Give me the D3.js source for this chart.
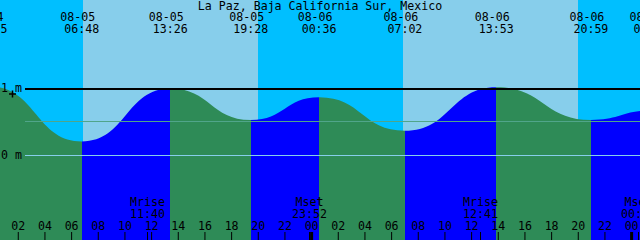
<!DOCTYPE html>
<meta charset="utf-8">
<script src="https://cdn.jsdelivr.net/npm/d3@7"></script>
<style>
    body { margin: 0; }
    svg { display: block; font-family: "DejaVu Sans Mono", monospace; font-size: 11.6px; }
</style>
<svg></svg>
<script>
    var width = 640, height = 240;
    var title = "La Paz, Baja California Sur, Mexico";
    var start = "08-05 00:40", end = "08-07 00:40";
    // tide extremes
    var tideTimes = ["08-04 23:55", "08-05 06:48", "08-05 13:26", "08-05 19:28", "08-06 00:36",
        "08-06 07:02", "08-06 13:53", "08-06 20:59", "08-07 01:29"];
    var tideLevels = [1.03, 0.21, 1.00, 0.53, 0.87, 0.37, 1.02, 0.53, 0.67];
    // sunrise, sunset, sunrise, sunset
    var sunTimes = ["08-05 06:53", "08-05 20:00", "08-06 06:52", "08-06 19:59"];
    var moonNames = ["Mrise", "Mset", "Mrise", "Mset"];
    var moonTimes = ["08-05 11:40", "08-05 23:52", "08-06 12:41", "08-07 00:33"];
    var depthTicks = [0, 1];
    var meanLevel = 0.52;

    var parse = d3.timeParse("%m-%d %H:%M");
    var fmtDate = d3.timeFormat("%m-%d"), fmtTime = d3.timeFormat("%H:%M");

    var svg = d3.select("svg").attr("width", width).attr("height", height);
    var x = d3.scaleTime().domain([parse(start), parse(end)]).range([0, width]);
    var y = d3.scaleLinear().domain([0, 1]).range([155.5, 88.5]);

    // sky: night / day bands
    var edges = [parse(start)].concat(sunTimes.map(parse), [parse(end)]);
    svg.selectAll('rect.sky').data(d3.pairs(edges)).enter().append('rect')
        .attr('class', 'sky')
        .attr('x', d => x(d[0]))
        .attr('width', d => x(d[1]) - x(d[0]))
        .attr('y', 0)
        .attr('height', height)
        .attr('shape-rendering', 'crispEdges')
        .attr('fill', (d, i) => i % 2 ? '#87ceeb' : '#00bfff');

    // water, blue when rising and green when falling
    var tides = tideTimes.map((t, i) => ({ t: parse(t), v: tideLevels[i] }));
    var area = d3.area().curve(d3.curveBumpX)
        .x(d => x(d.t))
        .y0(height)
        .y1(d => y(d.v));
    svg.append('clipPath').attr('id', 'water')
        .append('path').attr('d', area(tides));
    svg.append('g').attr('clip-path', 'url(#water)')
        .selectAll('rect').data(d3.pairs(tides)).enter().append('rect')
        .attr('x', d => x(d[0].t))
        .attr('width', d => x(d[1].t) - x(d[0].t))
        .attr('y', 0)
        .attr('height', height)
        .attr('shape-rendering', 'crispEdges')
        .attr('fill', d => d[1].v > d[0].v ? '#0000ff' : '#2e8b57');

    // level lines
    svg.append('line')
        .attr('x1', 25).attr('x2', width)
        .attr('y1', Math.round(y(meanLevel)) + 0.5).attr('y2', Math.round(y(meanLevel)) + 0.5)
        .attr('stroke', '#50a58a');
    svg.selectAll('line.depth').data(depthTicks).enter().append('line')
        .attr('class', 'depth')
        .attr('x1', 25).attr('x2', width)
        .attr('y1', d => d ? y(d) + 0.5 : y(d))
        .attr('y2', d => d ? y(d) + 0.5 : y(d))
        .attr('stroke', d => d ? '#000' : '#87ceeb')
        .attr('stroke-width', d => d ? 2 : 1);
    svg.selectAll('text.depth').data(depthTicks).enter().append('text')
        .attr('class', 'depth')
        .attr('x', 1)
        .attr('y', d => y(d) + 3.5)
        .text(d => d + ' m');
    svg.append('path')
        .attr('d', 'M9,' + (y(1) + 5.5) + 'h7M12.5,' + (y(1) + 2) + 'v7')
        .attr('stroke', '#000').attr('stroke-width', 1.5);

    // title and tide event labels
    svg.append('text')
        .attr('x', width / 2).attr('y', 10)
        .attr('text-anchor', 'middle')
        .text(title);
    var ev = svg.selectAll('g.ev').data(tides).enter().append('g')
        .attr('class', 'ev')
        .attr('text-anchor', 'middle')
        .attr('transform', d => 'translate(' + x(d.t) + ',0)');
    ev.append('text').attr('x', -4).attr('y', 21).text(d => fmtDate(d.t));
    ev.append('text').attr('y', 33).text(d => fmtTime(d.t));

    // hour axis along the bottom
    var axis = d3.axisTop(x)
        .ticks(d3.timeHour.every(2))
        .tickFormat(d3.timeFormat('%H'))
        .tickSize(8)
        .tickPadding(2);
    var gAxis = svg.append('g')
        .attr('transform', 'translate(0,' + height + ')')
        .call(axis)
        .attr('font-family', null)
        .attr('font-size', null);
    gAxis.select('.domain').remove();
    gAxis.selectAll('.tick line')
        .attr('stroke', '#000')
        .attr('stroke-width', d => d.getHours() === 0 ? 3 : 1);
    gAxis.selectAll('.tick text').attr('fill', '#000');

    // moon rise / set
    var moon = svg.selectAll('g.moon').data(moonTimes.map(parse)).enter().append('g')
        .attr('class', 'moon')
        .attr('text-anchor', 'middle')
        .attr('transform', d => 'translate(' + (Math.round(x(d)) + 0.5) + ',0)');
    moon.append('line').attr('y1', height - 8).attr('y2', height).attr('stroke', '#000');
    moon.append('text').attr('y', 206).text((d, i) => moonNames[i]);
    moon.append('text').attr('y', 218).text(d => fmtTime(d));
</script>
